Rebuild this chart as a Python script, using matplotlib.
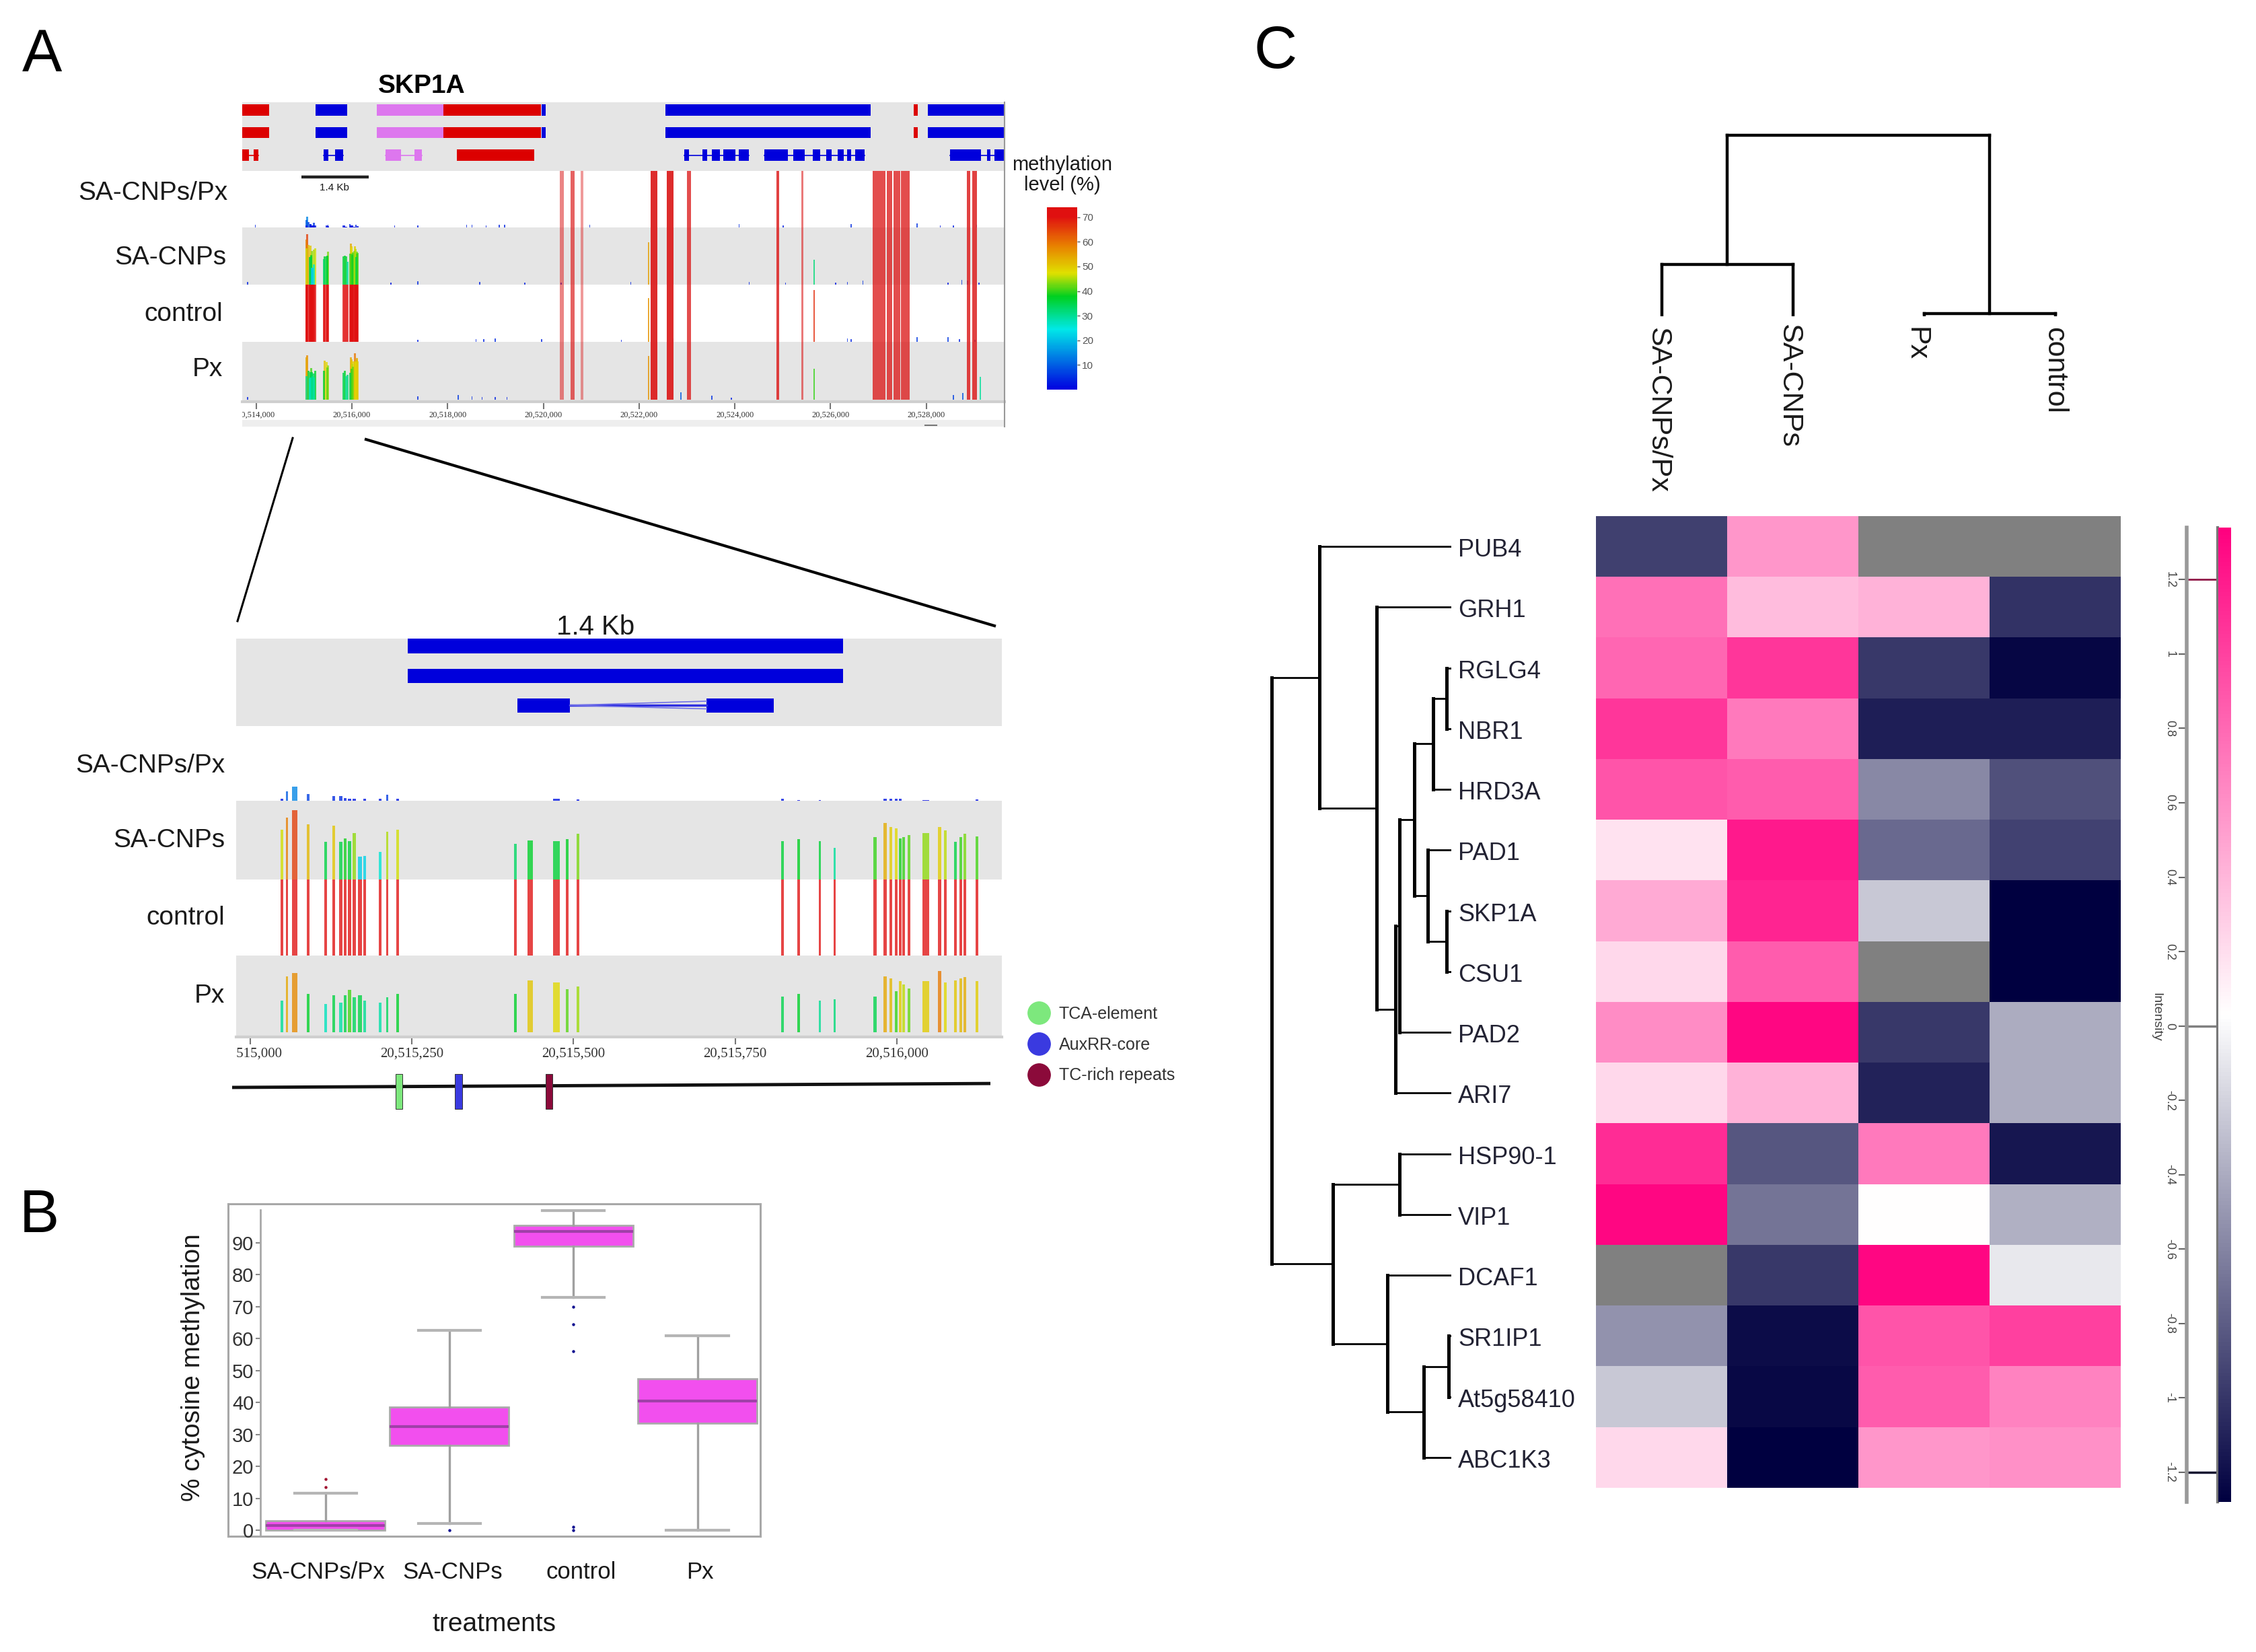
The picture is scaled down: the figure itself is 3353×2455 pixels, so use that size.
"""Figure with three panels: methylation browser tracks, boxplot, clustered heatmap."""

import matplotlib

matplotlib.use("Agg")
import matplotlib.pyplot as plt
import numpy as np
from matplotlib.cm import ScalarMappable
from matplotlib.colors import LinearSegmentedColormap, Normalize, TwoSlopeNorm
from matplotlib.lines import Line2D
from matplotlib.transforms import Bbox

plt.rcParams["font.family"] = "Liberation Sans"

W, H = 3353, 2455

TREATMENTS = ["SA-CNPs/Px", "SA-CNPs", "control", "Px"]

# ---- panel A, gene models (kb from 20,514,000) ----
TOP_BASE = 20514000
GENE_ROW1 = [(-0.291, 0.275, "r"), (1.245, 1.908, "b"), (2.522, 3.913, "v"), (3.913, 5.950, "r"),
             (5.966, 6.047, "b"), (8.553, 12.837, "b"), (13.743, 13.824, "r"), (14.034, 15.634, "b")]
GENE_ROW3 = [(-0.291, -0.15, "r"), (-0.05, 0.049, "r"), (1.407, 1.504, "b"), (1.649, 1.811, "b"),
             (2.700, 3.023, "v"), (3.314, 3.460, "v"), (4.187, 5.804, "r"),
             (8.941, 9.038, "b"), (9.329, 9.426, "b"), (9.523, 9.685, "b"), (9.765, 10.008, "b"),
             (10.089, 10.299, "b"), (10.622, 11.107, "b"), (11.220, 11.463, "b"), (11.625, 11.786, "b"),
             (11.916, 12.029, "b"), (12.142, 12.271, "b"), (12.352, 12.433, "b"), (12.514, 12.708, "b"),
             (14.503, 15.149, "b"), (15.263, 15.344, "b"), (15.424, 15.634, "b")]
GENE_INTRONS = [(-0.291, 0.049, "r"), (1.407, 1.811, "b"), (2.700, 3.460, "v"), (8.941, 10.299, "b"),
                (10.622, 12.708, "b"), (14.503, 15.634, "b")]
GENE_COLORS = {"r": "#dc0000", "b": "#0000dc", "v": "#dd77ee"}

# fully methylated columns crossing all four tracks (kb, width kb)
COLUMN_POS = [6.386, 6.613, 6.807, 8.310, 8.650, 9.038, 10.897, 11.414,
              13.015, 13.233, 13.387, 13.565, 14.883, 15.004]
COLUMN_WIDTH = [0.097, 0.081, 0.05, 0.13, 0.13, 0.08, 0.05, 0.05,
                0.275, 0.11, 0.13, 0.19, 0.08, 0.10]
COLUMN_ALPHA = [0.55, 0.7, 0.45, 0.95, 0.95, 0.8, 0.85, 0.6, 0.8, 0.8, 0.8, 0.8, 0.85, 0.85]

# sites that differ per track: position (kb) and % value per treatment
PARTIAL_POS = [8.197, 11.657, 8.876, 14.761, 15.133]
PARTIAL_SACNPS_PX = [0, 0, 0, 0, 0]
PARTIAL_SACNPS = [74, 43, 0, 0, 0]
PARTIAL_CONTROL = [76, 91, 0, 0, 0]
PARTIAL_PX = [76, 54, 13, 12, 40]

# low background signal on each track (kb, %)
LOW_POS = [
    [-0.016, 1.504, 1.843, 1.956, 2.086, 2.894, 3.379, 4.398, 4.511, 4.802, 5.077, 5.190, 6.968, 10.089,
     11.010, 12.433, 13.807, 14.293, 14.567, 15.052],
    [-0.178, 2.813, 3.379, 4.673, 5.610, 6.370, 7.825, 10.299, 11.059, 12.110, 12.352, 12.676, 14.454,
     14.745, 14.858, 15.101],
    [3.379, 4.592, 4.753, 4.996, 5.966, 7.631, 8.715, 12.352, 12.433, 13.807, 14.454, 14.697, 15.020],
    [-0.178, 3.379, 4.220, 4.511, 4.721, 4.996, 5.238, 9.523, 9.927, 14.567],
]
LOW_VAL = [
    [5, 5, 4, 6, 5, 3, 4, 5, 5, 4, 5, 5, 5, 6, 4, 6, 7, 3, 4, 5],
    [5, 3, 6, 5, 4, 3, 5, 5, 4, 3, 5, 7, 3, 8, 7, 4],
    [4, 5, 5, 6, 5, 4, 6, 6, 5, 8, 8, 5, 4],
    [5, 6, 8, 6, 5, 5, 5, 7, 4, 9],
]

# ---- panel A, zoomed region (bp from 20,515,000) ----
ZOOM_BASE = 20515000
SITE_POS = np.array([49, 57, 69, 90, 117, 129, 140, 147, 154, 161, 170, 177, 201, 212, 228, 410, 433, 474, 490,
                     507, 823, 848, 881, 904, 966, 982, 991, 999, 1005, 1011, 1019, 1045, 1066, 1075, 1091,
                     1099, 1105, 1124])
SITE_WIDTH = np.array([4, 4, 8, 4, 4, 4, 5, 5, 5, 5, 7, 4, 4, 4, 4, 4, 8, 10, 4, 5, 4, 4, 4, 3, 5, 5, 4, 4, 4, 4,
                       5, 10, 5, 4, 4, 4, 4, 4])
SITE_SACNPS_PX = np.array([3, 13, 19, 9, 0, 6, 6, 4, 3, 3, 0, 3, 3, 8, 3, 0, 0, 3, 0, 2, 3, 1, 1, 0, 0, 3, 3, 3,
                           3, 0, 0, 1, 0, 0, 0, 0, 0, 2])
SITE_SACNPS = np.array([63, 79, 88, 70, 48, 68, 48, 52, 49, 59, 29, 30, 35, 61, 63, 45, 50, 49, 51, 58, 49, 51,
                        49, 40, 54, 72, 67, 65, 52, 54, 56, 59, 67, 62, 48, 54, 58, 55])
SITE_CONTROL = np.full(38, 100)
SITE_PX = np.array([41, 73, 77, 50, 37, 48, 39, 48, 55, 46, 48, 41, 39, 46, 50, 50, 68, 65, 56, 60, 47, 50, 41,
                    43, 47, 73, 70, 54, 67, 62, 57, 67, 80, 65, 68, 70, 72, 67])

ZOOM_BLOCK = (244, 917)
ZOOM_EXONS = [(413, 495), (706, 810)]

PROMOTER_SPAN = (-28, 1145)
PROMOTER_POS = [230, 322, 462]
PROMOTER_NAMES = ["TCA-element", "AuxRR-core", "TC-rich repeats"]
PROMOTER_COLORS = ["#7de87d", "#3a3ae0", "#8b0a3a"]

METH_TICKS = [10, 20, 30, 40, 50, 60, 70]

# ---- panel B ----
BOX_Q1 = [0, 26.5, 89, 33.5]
BOX_MED = [1.5, 32.5, 93.5, 40.5]
BOX_Q3 = [3, 38.5, 95.5, 47.5]
BOX_LOW = [0, 2, 73, 0]
BOX_HIGH = [11.5, 62.5, 100, 61]
BOX_FLIERS = [[13.5, 16], [0], [70, 64.5, 56, 1, 0], []]
FLIER_COLORS = ["#a01030", "#101090", "#101090", "#101090"]

# ---- panel C ----
GENES = ["PUB4", "GRH1", "RGLG4", "NBR1", "HRD3A", "PAD1", "SKP1A", "CSU1", "PAD2", "ARI7",
         "HSP90-1", "VIP1", "DCAF1", "SR1IP1", "At5g58410", "ABC1K3"]
HEAT_COLS = ["SA-CNPs/Px", "SA-CNPs", "Px", "control"]
HEAT = np.array([
    [-0.96, 0.55, np.nan, np.nan],
    [0.75, 0.35, 0.40, -1.03],
    [0.80, 1.05, -1.00, -1.25],
    [1.05, 0.70, -1.12, -1.12],
    [0.90, 0.85, -0.60, -0.88],
    [0.15, 1.20, -0.75, -0.95],
    [0.45, 1.15, -0.28, -1.28],
    [0.20, 0.85, np.nan, -1.28],
    [0.60, 1.30, -1.00, -0.42],
    [0.20, 0.40, -1.10, -0.42],
    [1.10, -0.85, 0.70, -1.17],
    [1.30, -0.70, 0.00, -0.40],
    [np.nan, -1.00, 1.30, -0.12],
    [-0.55, -1.22, 0.90, 1.00],
    [-0.28, -1.24, 0.85, 0.65],
    [0.20, -1.28, 0.55, 0.58],
])
# merges as (child, child, height); ids 0-15 are genes, 16+ earlier merges
ROW_MERGES = [(2, 3, 0.20), (16, 4, 0.80), (6, 7, 0.20), (5, 18, 1.05), (17, 19, 1.65), (20, 8, 2.30),
              (21, 9, 2.48), (1, 22, 3.32), (0, 23, 5.88), (10, 11, 2.30), (13, 14, 0.12), (26, 15, 1.22),
              (12, 27, 2.85), (25, 28, 5.28), (24, 29, 8.02)]
COL_MERGES = [(0, 1, 0.77), (2, 3, 0.04), (4, 5, 2.69)]
INTENSITY_TICKS = [1.2, 1, 0.8, 0.6, 0.4, 0.2, 0, -0.2, -0.4, -0.6, -0.8, -1, -1.2]

meth_cmap = LinearSegmentedColormap.from_list("meth", [
    (0.0, "#0000e0"), (0.33, "#00e8e8"), (0.51, "#00d020"), (0.64, "#e0e000"),
    (0.79, "#e88000"), (0.95, "#e01010"), (1.0, "#e01010")])
heat_cmap = LinearSegmentedColormap.from_list("heat", ["#000040", "#ffffff", "#ff007f"])
heat_cmap.set_bad("#808080")
heat_norm = TwoSlopeNorm(vmin=-1.28, vcenter=0, vmax=1.34)

fig = plt.figure(figsize=(W / 100, H / 100), dpi=100)


def axes_px(x0, y0, x1, y1):
    return fig.add_axes([x0 / W, 1 - y1 / H, (x1 - x0) / W, (y1 - y0) / H])


def text_px(x, y, s, **kw):
    kw.setdefault("va", "center")
    kw.setdefault("color", "#1a1a1a")
    return fig.text(x / W, 1 - y / H, s, **kw)


def line_px(x0, y0, x1, y1, **kw):
    fig.add_artist(Line2D([x0 / W, x1 / W], [1 - y0 / H, 1 - y1 / H], transform=fig.transFigure, **kw))


def clean(ax):
    ax.set_xticks([])
    ax.set_yticks([])
    for s in ax.spines.values():
        s.set_visible(False)


def draw_sites(ax, pos, vals, widths):
    """Bars of methylation %, tall ones first so the short ones stay visible."""
    pos, vals, widths = np.asarray(pos), np.asarray(vals), np.asarray(widths)
    order = np.argsort(-vals)
    ax.bar(pos[order], vals[order], width=widths[order], color=meth_cmap(vals[order] / 100),
           alpha=0.78, linewidth=0)


def genomic_ticks(ax, ticks, clip_left, size, pad):
    ax.set_xticks(ticks)
    ax.set_xticklabels([f"{t:,}" for t in ticks], fontsize=size, family="Liberation Serif", color="#333333")
    ax.tick_params(axis="x", length=8, width=1.5, color="#777777", pad=pad)
    for lab in ax.get_xticklabels():
        lab.set_clip_on(True)
        lab.set_clip_box(Bbox([[clip_left, 0], [W, H]]))


# ---------- panel A: overview ----------
TOP_XLIM = (20513709, 20529635)
gene_ax = axes_px(360, 152, 1493, 254)
gene_ax.set_facecolor("#e5e5e5")
clean(gene_ax)
gene_ax.set_xlim(*TOP_XLIM)
gene_ax.set_ylim(2.70, -0.34)
for row in (0, 1):
    for start, end, c in GENE_ROW1:
        gene_ax.barh(row, (end - start) * 1000, left=TOP_BASE + start * 1000, height=0.5,
                     color=GENE_COLORS[c], linewidth=0)
for start, end, c in GENE_INTRONS:
    gene_ax.plot([TOP_BASE + start * 1000, TOP_BASE + end * 1000], [2, 2], color=GENE_COLORS[c], lw=1.2)
for start, end, c in GENE_ROW3:
    gene_ax.barh(2, (end - start) * 1000, left=TOP_BASE + start * 1000, height=0.5,
                 color=GENE_COLORS[c], linewidth=0)

top_edges = [254, 338, 423, 508, 597]
track_faces = ["white", "#e5e5e5", "white", "#e5e5e5"]
site_vals = [SITE_SACNPS_PX, SITE_SACNPS, SITE_CONTROL, SITE_PX]
partial_vals = [PARTIAL_SACNPS_PX, PARTIAL_SACNPS, PARTIAL_CONTROL, PARTIAL_PX]
top_tracks = []
for i in range(4):
    ax = axes_px(360, top_edges[i], 1493, top_edges[i + 1])
    ax.set_facecolor(track_faces[i])
    clean(ax)
    ax.set_xlim(*TOP_XLIM)
    ax.set_ylim(-3 if i == 3 else 0, 100)
    draw_sites(ax, TOP_BASE + np.array(LOW_POS[i]) * 1000, LOW_VAL[i], np.full(len(LOW_VAL[i]), 22))
    draw_sites(ax, ZOOM_BASE + SITE_POS, site_vals[i], np.full(SITE_POS.size, 42))
    for pos, width, alpha in zip(COLUMN_POS, COLUMN_WIDTH, COLUMN_ALPHA):
        ax.bar(TOP_BASE + pos * 1000, 100, width=width * 1000, color="#dc2020", alpha=alpha, linewidth=0)
    draw_sites(ax, TOP_BASE + np.array(PARTIAL_POS) * 1000, partial_vals[i], np.full(len(PARTIAL_POS), 30))
    top_tracks.append(ax)
top_tracks[0].plot([TOP_BASE + 950, TOP_BASE + 2350], [89, 89], color="#222222", lw=3.2, solid_capstyle="butt")
text_px(497, 279, "1.4 Kb", ha="center", fontsize=11)

px_ax = top_tracks[3]
px_ax.spines["bottom"].set_visible(True)
px_ax.spines["bottom"].set_color("#cfcfcf")
px_ax.spines["bottom"].set_linewidth(3)
genomic_ticks(px_ax, list(range(20514000, 20530000, 2000)), 360, 9, 2)

strip_ax = axes_px(360, 624, 1493, 634)
strip_ax.set_facecolor("#eeeeee")
clean(strip_ax)
line_px(1375, 632, 1392, 632, color="#777777", lw=1.5)
line_px(1493, 152, 1493, 634, color="#999999", lw=1.5)

text_px(627, 128, "SKP1A", ha="center", fontsize=28, fontweight="bold", color="black")
for name, y, xr in zip(TREATMENTS, [287, 383, 467, 549], [339, 336, 331, 331]):
    text_px(xr, y, name, ha="right", fontsize=28)

text_px(1579, 260, "methylation\nlevel (%)", ha="center", fontsize=21, linespacing=1.1)
meth_cax = axes_px(1556, 308, 1601, 579)
meth_cb = fig.colorbar(ScalarMappable(Normalize(0, 74), meth_cmap), cax=meth_cax)
meth_cb.outline.set_visible(False)
meth_cb.set_ticks(METH_TICKS)
meth_cb.ax.tick_params(labelsize=11, length=3, width=1, colors="#555555", pad=2)

# guide lines to the zoomed region
line_px(435, 651, 353, 923, color="black", lw=2.2)
line_px(544, 653, 1478, 930, color="black", lw=3)

# ---------- panel A: zoomed region ----------
ZOOM_XLIM = (ZOOM_BASE - 21.5, ZOOM_BASE + 1162.5)
zoom_gene = axes_px(351, 949, 1489, 1079)
zoom_gene.set_facecolor("#e5e5e5")
clean(zoom_gene)
zoom_gene.set_xlim(*ZOOM_XLIM)
zoom_gene.set_ylim(2.70, -0.25)
for row in (0, 1):
    zoom_gene.barh(row, ZOOM_BLOCK[1] - ZOOM_BLOCK[0], left=ZOOM_BASE + ZOOM_BLOCK[0], height=0.48,
                   color="#0000dc", linewidth=0)
for (start, end) in ZOOM_EXONS:
    zoom_gene.barh(2, end - start, left=ZOOM_BASE + start, height=0.48, color="#0000dc", linewidth=0)
zoom_gene.plot([ZOOM_BASE + ZOOM_EXONS[0][1], ZOOM_BASE + ZOOM_EXONS[1][0]], [2, 2], color="#3030e0", lw=2.5)
zoom_gene.plot([ZOOM_BASE + ZOOM_EXONS[0][1], ZOOM_BASE + ZOOM_EXONS[1][0]], [2, 1.86], color="#7070e8", lw=1.2)
zoom_gene.plot([ZOOM_BASE + ZOOM_EXONS[0][1], ZOOM_BASE + ZOOM_EXONS[1][0]], [2, 2.12], color="#7070e8", lw=1.2)

zoom_edges = [1079, 1190, 1307, 1420, 1541]
for i in range(4):
    ax = axes_px(351, zoom_edges[i], 1489, zoom_edges[i + 1])
    ax.set_facecolor(track_faces[i])
    clean(ax)
    ax.set_xlim(*ZOOM_XLIM)
    ax.set_ylim(-6 if i == 3 else 0, 100)
    draw_sites(ax, ZOOM_BASE + SITE_POS, site_vals[i], SITE_WIDTH)
ax.spines["bottom"].set_visible(True)
ax.spines["bottom"].set_color("#cfcfcf")
ax.spines["bottom"].set_linewidth(3)
genomic_ticks(ax, [20515000, 20515250, 20515500, 20515750, 20516000], 351, 15, 3)

text_px(885, 932, "1.4 Kb", ha="center", fontsize=29)
for name, y in zip(TREATMENTS, [1138, 1249, 1364, 1480]):
    text_px(334, y, name, ha="right", fontsize=28)

prom_ax = axes_px(345, 1590, 1472, 1655)
clean(prom_ax)
prom_ax.patch.set_visible(False)
prom_ax.set_xlim(ZOOM_BASE + PROMOTER_SPAN[0], ZOOM_BASE + PROMOTER_SPAN[1])
prom_ax.set_ylim(0, 1)
prom_ax.plot([ZOOM_BASE + PROMOTER_SPAN[0], ZOOM_BASE + PROMOTER_SPAN[1]], [0.6, 0.69], color="#111111", lw=3.5)
prom_ax.bar(ZOOM_BASE + np.array(PROMOTER_POS), 0.8, bottom=0.108, width=11, color=PROMOTER_COLORS,
            edgecolor="#333333", linewidth=0.7, zorder=3)
fig.legend(handles=[Line2D([], [], ls="", marker="o", ms=24, color=c, label=n)
                    for c, n in zip(PROMOTER_COLORS, PROMOTER_NAMES)],
           loc="upper left", bbox_to_anchor=(1506 / W, 1 - 1482 / H), frameon=False, fontsize=18,
           labelspacing=0.88, handletextpad=0.2, borderpad=0, labelcolor="#333333")

# ---------- panel B ----------
frame = axes_px(339, 1789, 1130, 2283)
clean(frame)
for s in frame.spines.values():
    s.set_visible(True)
    s.set_color("#a8a8a8")
    s.set_linewidth(2.2)

box_ax = axes_px(387, 1789, 1130, 2283)
box_ax.patch.set_visible(False)
box_ax.set_xlim(-0.524, 3.507)
box_ax.set_ylim(-1.9, 102.2)
stats = [dict(med=m, q1=a, q3=b, whislo=lo, whishi=hi, fliers=f)
         for m, a, b, lo, hi, f in zip(BOX_MED, BOX_Q1, BOX_Q3, BOX_LOW, BOX_HIGH, BOX_FLIERS)]
parts = box_ax.bxp(stats, positions=range(4), widths=0.96, capwidths=0.5, patch_artist=True,
                   boxprops=dict(facecolor="#f24fee", edgecolor="#aaaaaa", linewidth=2),
                   medianprops=dict(color="#a040a8", linewidth=3),
                   whiskerprops=dict(color="#a0a0a0", linewidth=2.4),
                   capprops=dict(color="#b5b5b5", linewidth=3),
                   flierprops=dict(marker="o", markersize=3.2, markeredgewidth=0))
for fl, c in zip(parts["fliers"], FLIER_COLORS):
    fl.set_markerfacecolor(c)
box_ax.set_xticks([])
box_ax.set_yticks(range(0, 100, 10))
box_ax.tick_params(axis="y", labelsize=21, length=5, width=1.5, color="#888888", labelcolor="#333333", pad=2)
for side in ("top", "right", "bottom"):
    box_ax.spines[side].set_visible(False)
box_ax.spines["left"].set_bounds(-1.9, 100.3)
box_ax.spines["left"].set_color("#a8a8a8")
box_ax.spines["left"].set_linewidth(2)

for name, x in zip(TREATMENTS, [473, 673, 864, 1040]):
    text_px(x, 2337, name, ha="center", fontsize=25)
text_px(734, 2414, "treatments", ha="center", fontsize=28)
text_px(287, 2032, "% cytosine methylation", ha="center", rotation=90, fontsize=28)

# ---------- panel C ----------
heat_ax = axes_px(2372, 767, 3152, 2211)
heat_ax.imshow(HEAT, cmap=heat_cmap, norm=heat_norm, aspect="auto", interpolation="nearest")
clean(heat_ax)


def tree_segments(merges, n_leaves):
    """Return the bracket segments (at, height, at, height) of a dendrogram."""
    nodes = {i: (float(i), 0.0) for i in range(n_leaves)}
    segments = []
    for k, (a, b, h) in enumerate(merges):
        pa, ha = nodes[a]
        pb, hb = nodes[b]
        segments.append((pa, ha, pa, h))
        segments.append((pb, hb, pb, h))
        segments.append((pa, h, pb, h))
        nodes[n_leaves + k] = ((pa + pb) / 2, h)
    return segments


row_ax = axes_px(1884, 767, 2157, 2211)
clean(row_ax)
row_ax.set_xlim(8.2, 0)
row_ax.set_ylim(15.5, -0.5)
for p0, h0, p1, h1 in tree_segments(ROW_MERGES, len(GENES)):
    row_ax.plot([h0, h1], [p0, p1], color="black", lw=2 if p0 == p1 else 3.6, solid_capstyle="projecting")
for i, gene in enumerate(GENES):
    row_ax.text(-0.3, i + 0.06, gene, ha="left", va="center", fontsize=26, color="#222233", clip_on=False)

col_ax = axes_px(2372, 195, 3152, 470)
clean(col_ax)
col_ax.set_xlim(-0.5, 3.5)
col_ax.set_ylim(0, 2.75)
for p0, h0, p1, h1 in tree_segments(COL_MERGES, len(HEAT_COLS)):
    col_ax.plot([p0, p1], [h0, h1], color="black", lw=3.2, solid_capstyle="projecting")
for name, x, top in zip(HEAT_COLS, [2464, 2659, 2848, 3053], [486, 481, 486, 486]):
    text_px(x, top, name, ha="center", va="top", rotation=-90, fontsize=31)

key_ax = axes_px(3250, 784, 3296, 2232)
key_ax.set_ylim(-1.28, 1.34)
key_ax.set_xticks([])
key_ax.set_yticks(INTENSITY_TICKS)
key_ax.set_yticklabels([f"{t:g}" for t in INTENSITY_TICKS], rotation=-90, va="center", fontsize=13,
                       color="#444444")
key_ax.tick_params(axis="y", length=9, width=1.5, color="#666666", pad=3)
for side in ("top", "bottom"):
    key_ax.spines[side].set_visible(False)
key_ax.spines["left"].set_color("#999999")
key_ax.spines["left"].set_linewidth(4)
key_ax.spines["right"].set_color("#777777")
key_ax.spines["right"].set_linewidth(3)
key_ax.axhline(1.2, color="#901848", lw=2)
key_ax.axhline(0, color="#808080", lw=2.5)
key_ax.axhline(-1.2, color="#101030", lw=2.5)

heat_cax = axes_px(3297, 784, 3316, 2232)
heat_cb = fig.colorbar(ScalarMappable(heat_norm, heat_cmap), cax=heat_cax, spacing="proportional")
heat_cb.outline.set_visible(False)
heat_cb.set_ticks([])
text_px(3205, 1511, "Intensity", ha="center", rotation=-90, fontsize=14, color="#444444")

# panel letters
for letter, x, y in [("A", 62, 83), ("B", 58, 1808), ("C", 1896, 78)]:
    text_px(x, y, letter, ha="center", fontsize=64, color="black")

fig.savefig("out.png", dpi=100)
